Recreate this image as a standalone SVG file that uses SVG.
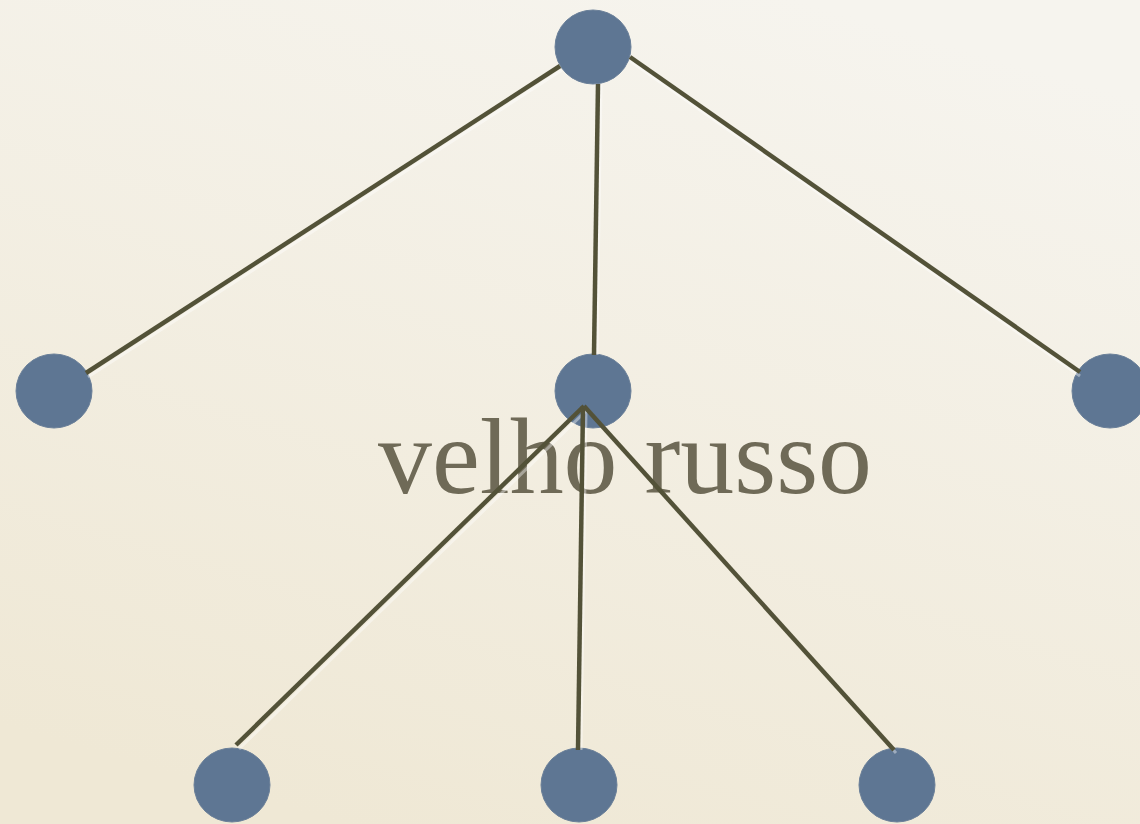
<svg xmlns="http://www.w3.org/2000/svg" width="1140" height="824" viewBox="0 0 1140 824">
<defs>
<linearGradient id="bg" x1="0.7" y1="0" x2="0.3" y2="1">
<stop offset="0" stop-color="#f6f4ee"/>
<stop offset="1" stop-color="#efe8d5"/>
</linearGradient>
<style>
.node{fill:#5e7693;stroke:#6b8099;stroke-width:1}
.edge{stroke:#535238;stroke-width:4.5;stroke-linecap:butt}
.hl{stroke:#ffffff;stroke-opacity:0.4;stroke-width:3}
.label{font-family:"Liberation Serif",serif;font-size:108px;fill:#6f6a57}
</style>
</defs>
<rect width="1140" height="824" fill="url(#bg)"/>
<g id="node-top"><ellipse class="node" cx="593" cy="47" rx="38" ry="37"/></g>
<g id="node-left"><ellipse class="node" cx="54" cy="391" rx="38" ry="37"/></g>
<g id="node-mid"><ellipse class="node" cx="593" cy="391" rx="38" ry="37"/></g>
<g id="node-right"><ellipse class="node" cx="1110" cy="391" rx="38" ry="37"/></g>
<g id="node-b1"><ellipse class="node" cx="232" cy="785" rx="38" ry="37"/></g>
<g id="node-b2"><ellipse class="node" cx="579" cy="785" rx="38" ry="37"/></g>
<g id="node-b3"><ellipse class="node" cx="897" cy="785" rx="38" ry="37"/></g>
<g id="label"><text class="label" x="378" y="493" textLength="494" lengthAdjust="spacingAndGlyphs">velho russo</text></g>
<g id="connectors">
<g class="hl" fill="none">
<line x1="562" y1="70" x2="88" y2="377"/>
<line x1="601" y1="84" x2="597" y2="355"/>
<line x1="630" y1="61" x2="1080" y2="376"/>
<line x1="587" y1="410" x2="239" y2="749"/>
<line x1="586" y1="410" x2="581" y2="750"/>
<line x1="587" y1="409" x2="896" y2="753"/>
</g>
<g class="edge" fill="none">
<line x1="560" y1="66" x2="86" y2="373"/>
<line x1="598" y1="84" x2="594" y2="355"/>
<line x1="630" y1="57" x2="1080" y2="372"/>
<line x1="584" y1="406" x2="236" y2="745"/>
<line x1="583" y1="406" x2="578" y2="750"/>
<line x1="584" y1="406" x2="894" y2="750"/>
</g>
</g>
</svg>
